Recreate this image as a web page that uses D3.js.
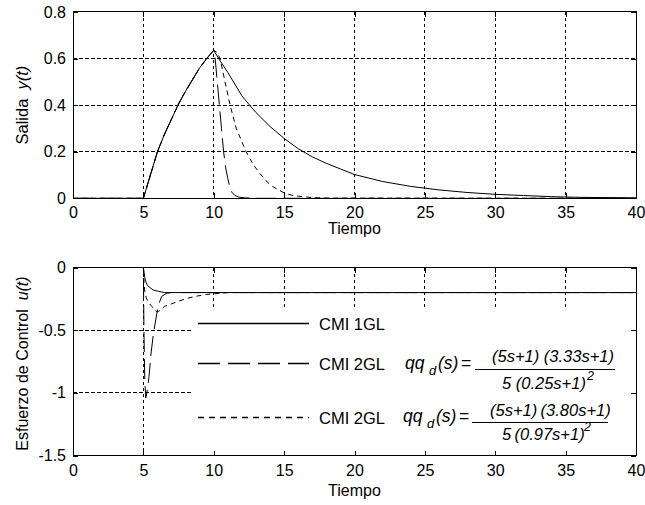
<!DOCTYPE html>
<html><head><meta charset="utf-8">
<script src="https://cdn.jsdelivr.net/npm/d3@7"></script>
<style>
html,body{margin:0;padding:0;background:#fff;}
svg text{font-family:"Liberation Sans",Arial,Helvetica,sans-serif;fill:#000;}
</style></head>
<body><svg id="c" width="645" height="505"></svg>
<script>
// ---------- data ----------
const X_TICKS = [0,5,10,15,20,25,30,35,40];
const TOP_Y_TICKS = [0,0.2,0.4,0.6,0.8];
const BOT_Y_TICKS = [-1.5,-1,-0.5,0];

// Salida y(t)
const yT_1GL = [0,5,5.5,6,6.5,7,7.5,8,8.5,9,9.5,10,10.4,11,12,12.5,13,14,15,16,17,18,19,20,22,24,26,28,30,32,34,36,40];
const yV_1GL = [0,0,0.1,0.2,0.275,0.34,0.405,0.46,0.51,0.56,0.6,0.635,0.595,0.54,0.44,0.403,0.368,0.308,0.257,0.213,0.178,0.15,0.126,0.102,0.072,0.051,0.036,0.025,0.017,0.012,0.007,0.004,0.002];
const yT_2GLa = [0,5,5.5,6,6.5,7,7.5,8,8.5,9,9.5,10,10.1,10.25,10.4,10.55,10.7,10.85,11,11.15,11.3,11.5,11.8,12.2,13,40];
const yV_2GLa = [0,0,0.1,0.2,0.275,0.34,0.405,0.46,0.51,0.56,0.6,0.635,0.6,0.5,0.4,0.3,0.2,0.13,0.085,0.045,0.025,0.012,0.005,0.002,0,0];
const yT_2GLb = [0,5,5.5,6,6.5,7,7.5,8,8.5,9,9.5,10,10.25,10.45,10.8,11.16,11.6,12.3,12.8,13.3,13.8,14.2,15,15.5,16,17,18,40];
const yV_2GLb = [0,0,0.1,0.2,0.275,0.34,0.405,0.46,0.51,0.56,0.6,0.635,0.625,0.6,0.5,0.4,0.3,0.2,0.145,0.105,0.07,0.05,0.023,0.014,0.009,0.003,0.001,0];

// Esfuerzo de Control u(t)
const uT_1GL = [0,5,5.05,5.1,5.2,5.3,5.47,5.7,6.07,6.5,40];
const uV_1GL = [0,0,-0.04,-0.08,-0.12,-0.145,-0.16,-0.18,-0.19,-0.2,-0.2];
const uT_2GLa = [0,5,5.04,5.1,5.17,5.25,5.4,5.54,5.71,5.83,5.95,6.1,6.3,6.66,7,40];
const uV_2GLa = [0,0,-0.5,-0.9,-1.04,-1.0,-0.87,-0.69,-0.53,-0.45,-0.37,-0.29,-0.23,-0.205,-0.2,-0.2];
const uT_2GLb = [0,5,5.05,5.1,5.2,5.35,5.6,5.8,6.0,6.2,6.5,7,7.5,8,8.7,9.5,10,11,40];
const uV_2GLb = [0,0,-0.12,-0.19,-0.24,-0.28,-0.31,-0.34,-0.355,-0.34,-0.31,-0.29,-0.27,-0.25,-0.23,-0.215,-0.21,-0.2,-0.2];

const LEGEND_LABELS = ["CMI 1GL","CMI 2GL","CMI 2GL"];

// ---------- drawing ----------
const svg = d3.select("#c");
svg.append("rect").attr("width",645).attr("height",505).attr("fill","#fff");

const L = 73, R = 636;
const x = d3.scaleLinear().domain([0,40]).range([L,R]);
const yTop = d3.scaleLinear().domain([0,0.8]).range([198.3,11.9]);
const yBot = d3.scaleLinear().domain([-1.5,0]).range([455.5,267.5]);

const STYLES = {solid:null, long:"20,7", short:"5,4"};
const GRID_DASH = "3.5,2.5";

function zip(t,v){return t.map((d,i)=>[d,v[i]]);}

function panel(y, yTicks, series, xGridStopY, yGridStopX){
  const g = svg.append("g");
  const [y0,y1] = y.range();
  X_TICKS.filter(d=>d>0&&d<40).forEach(d=>{
    const stop = (xGridStopY && d>=10) ? xGridStopY : y0;
    g.append("line").attr("x1",x(d)).attr("x2",x(d)).attr("y1",y1).attr("y2",stop)
      .attr("stroke","#000").attr("stroke-width",1).attr("stroke-dasharray",GRID_DASH)
      .attr("shape-rendering","crispEdges");
  });
  const yd = y.domain();
  yTicks.filter(d=>d>yd[0]&&d<yd[1]).forEach(d=>{
    g.append("line").attr("x1",L).attr("x2",yGridStopX||R).attr("y1",y(d)).attr("y2",y(d))
      .attr("stroke","#000").attr("stroke-width",1).attr("stroke-dasharray",GRID_DASH)
      .attr("shape-rendering","crispEdges");
  });
  const line = d3.line().x(d=>x(d[0])).y(d=>y(d[1]));
  series.forEach(s=>{
    g.append("path").attr("d",line(zip(s.t,s.v))).attr("fill","none")
      .attr("stroke","#000").attr("stroke-width",1)
      .attr("stroke-dasharray",STYLES[s.style]);
  });
  return g;
}

function axes(y, yTicks, tickPad, labelOff){
  const [y0,y1] = y.range();
  const g = svg.append("g");
  const ax = g.append("g").attr("transform",`translate(0,${y0})`)
    .call(d3.axisBottom(x).tickValues(X_TICKS).tickSizeInner(-5).tickSizeOuter(0).tickPadding(tickPad).tickFormat(d=>String(d)));
  const axT = g.append("g").attr("transform",`translate(0,${y1})`)
    .call(d3.axisTop(x).tickValues(X_TICKS).tickSizeInner(-5).tickSizeOuter(0).tickFormat(""));
  const ay = g.append("g").attr("transform",`translate(${L},0)`)
    .call(d3.axisLeft(y).tickValues(yTicks).tickSizeInner(-5).tickSizeOuter(0).tickPadding(7).tickFormat(d=>String(d)));
  const ayR = g.append("g").attr("transform",`translate(${R},0)`)
    .call(d3.axisRight(y).tickValues(yTicks).tickSizeInner(-5).tickSizeOuter(0).tickFormat(""));
  [ax,axT,ay,ayR].forEach(a=>{
    a.select(".domain").remove();
    a.selectAll("line").attr("stroke","#000").attr("shape-rendering","crispEdges");
    a.selectAll("text").attr("font-size",16).attr("font-family",'"Liberation Sans",Arial,sans-serif').attr("fill","#000");
  });
  g.append("rect").attr("x",L).attr("y",y1).attr("width",R-L).attr("height",y0-y1)
    .attr("fill","none").attr("stroke","#000").attr("stroke-width",1).attr("shape-rendering","crispEdges");
  g.append("text").attr("x",(L+R)/2).attr("y",y0+labelOff).attr("text-anchor","middle")
    .attr("font-size",16).text("Tiempo");
}

// Top panel
panel(yTop, TOP_Y_TICKS, [
  {t:yT_1GL, v:yV_1GL, style:"solid"},
  {t:yT_2GLa, v:yV_2GLa, style:"long"},
  {t:yT_2GLb, v:yV_2GLb, style:"short"}
]);
axes(yTop, TOP_Y_TICKS, 8, 36);
const yl1 = svg.append("text").attr("transform",`translate(28,${(11.9+198.3)/2}) rotate(-90)`)
  .attr("text-anchor","middle").attr("font-size",16.5);
yl1.append("tspan").text("Salida\u00a0\u00a0");
yl1.append("tspan").attr("font-style","italic").text("y(t)");

// Bottom panel
panel(yBot, BOT_Y_TICKS, [
  {t:uT_1GL, v:uV_1GL, style:"solid"},
  {t:uT_2GLa, v:uV_2GLa, style:"long"},
  {t:uT_2GLb, v:uV_2GLb, style:"short"}
], 308, 192);

// legend box
svg.append("rect").attr("x",192).attr("y",308).attr("width",442).attr("height",146).attr("fill","#fff");
const legRows = [323.5, 363.5, 417.5];
const legBase = [330, 370, 424];
const legStyles = [null, "22,8", "6,5"];
legRows.forEach((ry,i)=>{
  svg.append("line").attr("x1",198).attr("x2",309).attr("y1",ry).attr("y2",ry)
    .attr("stroke","#000").attr("stroke-width",1.3).attr("stroke-dasharray",legStyles[i]);
  svg.append("text").attr("x",319).attr("y",legBase[i]).attr("font-size",16.5).text(LEGEND_LABELS[i]);
});
function formula(o){
  const t = (xx,yy,s,opt={})=>svg.append("text").attr("x",xx).attr("y",yy)
     .attr("font-size",opt.size||16.5).attr("font-style",opt.it===false?"normal":"italic")
     .attr("text-anchor",opt.anchor||"start").text(s);
  t(o.x, o.base, "qq", {size:17.5});
  t(o.x+24, o.base+6, "d", {size:13});
  t(o.x+33, o.base, "(s)", {size:17.5});
  t(o.x+56, o.base, "=", {it:false, size:17.5});
  svg.append("line").attr("x1",o.fx1).attr("x2",o.fx2).attr("y1",o.fy).attr("y2",o.fy)
    .attr("stroke","#000").attr("stroke-width",1).attr("shape-rendering","crispEdges");
  t(o.numX, o.numBase, o.num);
  t(o.denX, o.denBase, o.den);
  t(o.supX, o.supBase, "2", {size:12.5});
}
formula({x:405, base:369, fx1:475, fx2:615, fy:369.5, num:"(5s+1) (3.33s+1)", numX:492, numBase:362,
  den:"5 (0.25s+1)", denX:502, denBase:389, supX:587, supBase:380});
formula({x:403, base:422, fx1:472, fx2:608, fy:422.5, num:"(5s+1)\u2009(3.80s+1)", numX:490, numBase:416,
  den:"5\u2009(0.97s+1)", denX:502, denBase:440, supX:584, supBase:431});

axes(yBot, BOT_Y_TICKS, 9.5, 40);
const yl2 = svg.append("text").attr("transform",`translate(28,${(267.5+455.5)/2+2}) rotate(-90)`)
  .attr("text-anchor","middle").attr("font-size",16);
yl2.append("tspan").text("Esfuerzo de Control\u00a0\u00a0");
yl2.append("tspan").attr("font-style","italic").text("u(t)");
</script></body></html>
